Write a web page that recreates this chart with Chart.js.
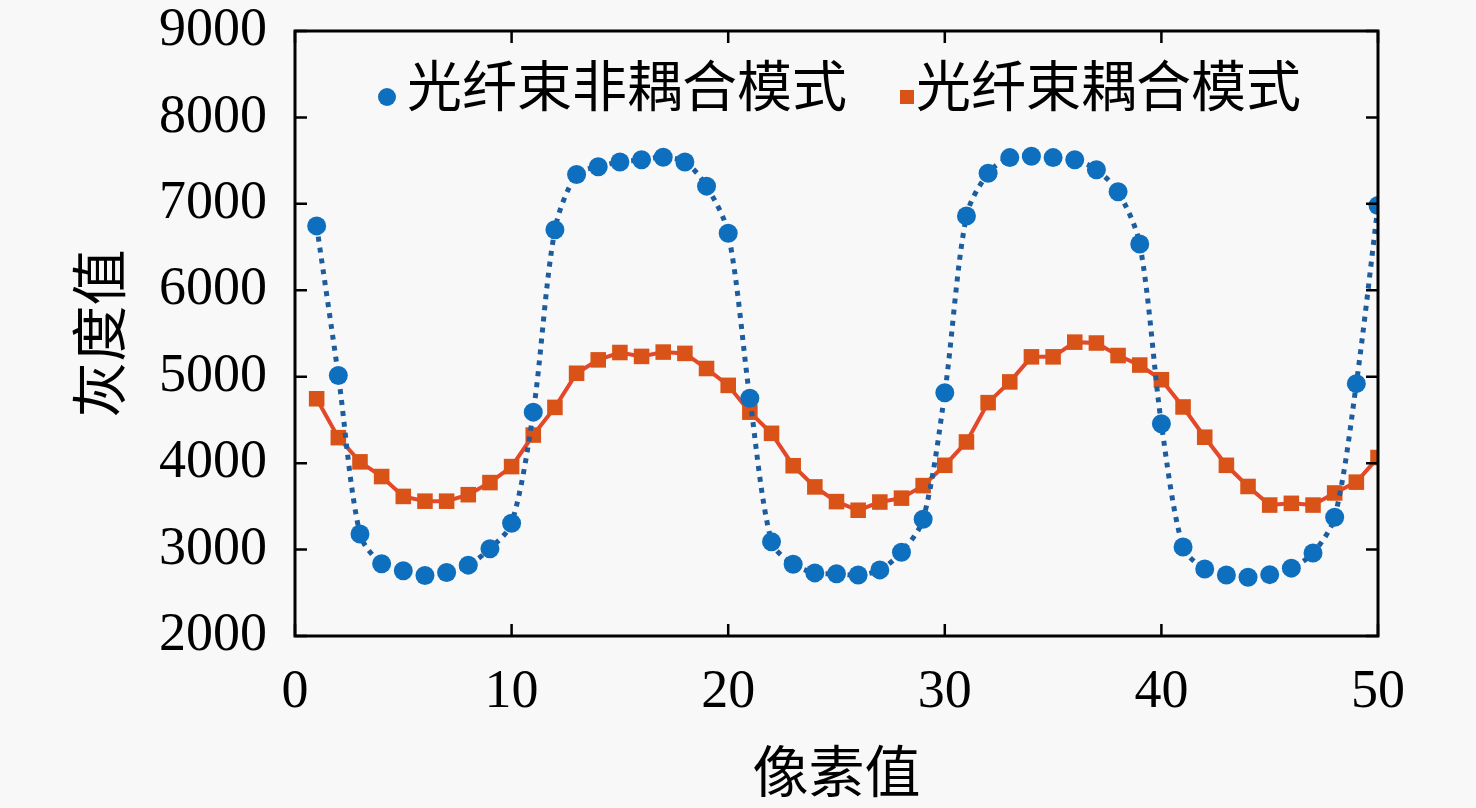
<!DOCTYPE html>
<html>
<head>
<meta charset="utf-8">
<script src="https://cdn.jsdelivr.net/npm/chart.js@4.4.1/dist/chart.umd.min.js"></script>
<style>
  html, body { margin: 0; padding: 0; background: #f8f8f8; }
  #wrap { width: 1476px; height: 808px; position: relative; }
</style>
</head>
<body>
<div id="wrap"><canvas id="c"></canvas></div>
<script>
// ---- data ----
const pixelIndex = [1,2,3,4,5,6,7,8,9,10,11,12,13,14,15,16,17,18,19,20,21,22,23,24,25,26,27,28,29,30,31,32,33,34,35,36,37,38,39,40,41,42,43,44,45,46,47,48,49,50];
const uncoupled = [6745,5015,3180,2835,2755,2700,2735,2820,3010,3305,4590,6700,7340,7430,7485,7510,7540,7485,7205,6660,4750,3090,2830,2730,2720,2705,2765,2970,3350,4815,6860,7355,7535,7550,7535,7510,7395,7140,6535,4455,3030,2775,2705,2680,2710,2785,2960,3375,4920,6980];
const coupled = [4745,4295,4015,3845,3615,3560,3560,3635,3775,3960,4325,4645,5040,5195,5280,5235,5285,5270,5095,4900,4590,4345,3970,3725,3555,3455,3550,3595,3740,3975,4245,4700,4940,5230,5230,5400,5390,5245,5135,4965,4650,4300,3975,3730,3515,3535,3515,3655,3780,4065];
const seriesNames = ['光纤束非耦合模式', '光纤束耦合模式'];
const xTicks = [0, 10, 20, 30, 40, 50];
const yTicks = [2000, 3000, 4000, 5000, 6000, 7000, 8000, 9000];

const toPts = (ys) => pixelIndex.map((x, i) => ({x: x, y: ys[i]}));

const bgPlugin = {
  id: 'bg',
  beforeDraw(chart) {
    const ctx = chart.ctx;
    ctx.save();
    ctx.fillStyle = '#f8f8f8';
    ctx.fillRect(0, 0, chart.width, chart.height);
    ctx.restore();
  }
};

const framePlugin = {
  id: 'frame',
  afterDraw(chart) {
    const {ctx, chartArea: {left, right, top, bottom}, scales: {x, y}} = chart;
    ctx.save();
    ctx.strokeStyle = '#000';
    ctx.lineWidth = 3;
    ctx.strokeRect(left, top, right - left, bottom - top);
    ctx.lineWidth = 2.5;
    const tl = 12;
    ctx.beginPath();
    x.ticks.forEach(t => {
      const px = x.getPixelForValue(t.value);
      ctx.moveTo(px, bottom); ctx.lineTo(px, bottom - tl);
      ctx.moveTo(px, top); ctx.lineTo(px, top + tl);
    });
    y.ticks.forEach(t => {
      const py = y.getPixelForValue(t.value);
      ctx.moveTo(left, py); ctx.lineTo(left + tl, py);
      ctx.moveTo(right, py); ctx.lineTo(right - tl, py);
    });
    ctx.stroke();
    ctx.restore();
  }
};

const legendPlugin = {
  id: 'innerLegend',
  afterDatasetsDraw(chart) {
    const {ctx, chartArea: {left, top}} = chart;
    const ds = chart.data.datasets;
    ctx.save();
    ctx.font = '55px "Noto Sans CJK SC"';
    ctx.textBaseline = 'middle';
    ctx.textAlign = 'left';
    const cy = top + 54;
    // item 1
    let mx = left + 92;
    ctx.fillStyle = ds[0].pointBackgroundColor;
    ctx.beginPath(); ctx.arc(mx, cy + 12, 9, 0, Math.PI * 2); ctx.fill();
    ctx.fillStyle = '#000';
    ctx.fillText(ds[0].label, mx + 20, cy);
    // item 2
    mx = left + 612;
    ctx.fillStyle = ds[1].pointBackgroundColor;
    ctx.fillRect(mx - 7, cy + 12 - 7, 14, 14);
    ctx.fillStyle = '#000';
    ctx.fillText(ds[1].label, mx + 9, cy);
    ctx.restore();
  }
};

new Chart(document.getElementById('c'), {
  type: 'line',
  data: {
    datasets: [
      {
        label: seriesNames[0],
        data: toPts(uncoupled),
        borderColor: '#1d5d9e',
        borderWidth: 5,
        borderDash: [5, 6],
        tension: 0.3,
        pointStyle: 'circle',
        pointRadius: 9.5,
        pointBorderWidth: 0,
        pointBackgroundColor: '#0f6fbf',
        pointBorderColor: '#0f6fbf'
      },
      {
        label: seriesNames[1],
        data: toPts(coupled),
        borderColor: '#e4472a',
        borderWidth: 4,
        tension: 0,
        pointStyle: 'rect',
        pointRadius: 11,
        pointBorderWidth: 0,
        pointBackgroundColor: '#d95319',
        pointBorderColor: '#d95319'
      }
    ]
  },
  options: {
    responsive: true,
    maintainAspectRatio: false,
    animation: false,
    events: [],
    layout: { padding: { left: 0, right: 98, top: 31, bottom: 0 } },
    plugins: {
      legend: { display: false },
      tooltip: { enabled: false }
    },
    scales: {
      x: {
        type: 'linear',
        min: 0, max: 50,
        afterBuildTicks(scale) { scale.ticks = xTicks.map(v => ({value: v})); },
        afterFit(scale) { scale.height = 172; scale.paddingLeft = 0; scale.paddingRight = 0; },
        grid: { display: false, drawTicks: false },
        border: { display: false },
        ticks: {
          color: '#000',
          padding: 30,
          callback: (v) => String(v),
          font: { family: 'Liberation Serif', size: 54, lineHeight: 1 }
        },
        title: {
          display: true,
          text: '像素值',
          color: '#000',
          padding: { top: 0, bottom: 4 },
          font: { family: 'Noto Sans CJK SC', size: 56, lineHeight: 1.2 }
        }
      },
      y: {
        type: 'linear',
        min: 2000, max: 9000,
        afterBuildTicks(scale) { scale.ticks = yTicks.map(v => ({value: v})); },
        afterFit(scale) { scale.width = 295; scale.paddingTop = 0; scale.paddingBottom = 0; },
        grid: { display: false, drawTicks: false },
        border: { display: false },
        ticks: {
          color: '#000',
          padding: 28,
          callback: (v) => String(v),
          font: { family: 'Liberation Serif', size: 54, lineHeight: 1 }
        },
        title: {
          display: true,
          text: '灰度值',
          color: '#000',
          padding: { top: 65, bottom: 0 },
          font: { family: 'Noto Sans CJK SC', size: 56, lineHeight: 1.2 }
        }
      }
    }
  },
  plugins: [bgPlugin, legendPlugin, framePlugin]
});
</script>
</body>
</html>
